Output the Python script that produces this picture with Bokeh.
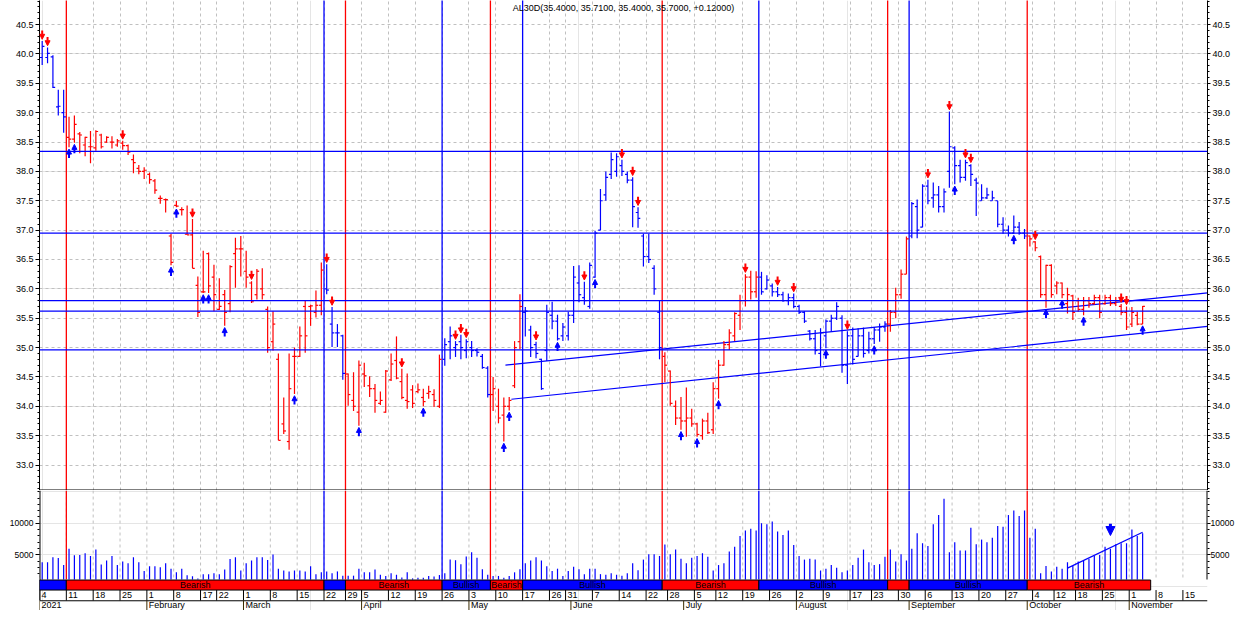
import pandas as pd
from bokeh.plotting import figure
from bokeh.layouts import column
from bokeh.models import (Range1d, LinearAxis, FixedTicker, NumeralTickFormatter, Grid, Span,
                          Label, ColumnDataSource, Arrow, NormalHead)
from bokeh.core.properties import value
from bokeh.embed import file_html
from bokeh.resources import INLINE

FONT = "Liberation Sans"
BLUE = "#0000FF"
RED = "#FF0000"
GRID = "#c0c0c0"

# ---------------- calendar ----------------
holidays = ["2021-02-15", "2021-02-16", "2021-03-24", "2021-04-01", "2021-04-02",
            "2021-05-24", "2021-05-25", "2021-06-21", "2021-07-09", "2021-08-16",
            "2021-10-08", "2021-10-11"]
days = [d for d in pd.bdate_range("2021-01-04", "2021-11-19")
        if d.strftime("%Y-%m-%d") not in holidays]

# ---------------- data ----------------
high = [40.22, 40.11, 39.98, 39.39, 39.39, 38.93, 38.95, 38.67, 38.59, 38.69,
        38.70, 38.64, 38.60, 38.60, 38.55, 38.52, 38.46, 38.29, 38.11, 38.07,
        37.98, 37.87, 37.59, 37.54, 36.94, 37.50, 37.39, 37.42, 37.19, 36.21,
        36.65, 36.62, 36.41, 36.18, 35.98, 36.40, 36.87, 36.90, 36.65, 36.13,
        36.34, 36.35, 35.70, 35.62, 34.90, 34.15, 34.90, 35.00, 35.36, 35.80,
        35.73, 35.97, 36.45, 36.42, 35.69, 35.40, 35.22, 34.56, 34.58, 34.78,
        34.74, 34.51, 34.38, 34.25, 34.62, 34.90, 35.19, 34.64, 34.56, 34.36,
        34.39, 34.30, 34.35, 34.29, 34.88, 35.16, 35.36, 35.11, 35.22, 35.14,
        35.11, 34.99, 34.89, 34.68, 34.50, 34.30, 34.15, 34.16, 35.11, 35.91,
        35.69, 35.37, 35.10, 34.81, 35.73, 35.78, 35.56, 35.42, 35.61, 36.39,
        36.40, 36.12, 36.45, 36.99, 37.70, 38.00, 38.32, 38.31, 38.20, 38.00,
        37.90, 37.39, 36.94, 36.94, 36.40, 35.80, 34.92, 34.61, 34.10, 34.16,
        34.32, 33.96, 33.72, 33.79, 33.89, 34.41, 34.79, 35.11, 35.31, 35.60,
        35.90, 36.25, 36.31, 36.30, 36.29, 36.23, 36.09, 36.03, 35.95, 35.92,
        35.92, 35.73, 35.62, 35.30, 35.30, 35.33, 35.48, 35.56, 35.77, 35.55,
        35.28, 35.34, 35.33, 35.34, 35.27, 35.35, 35.41, 35.45, 35.64, 36.02,
        36.33, 36.89, 37.48, 37.52, 37.78, 37.86, 37.81, 37.75, 37.71, 39.02,
        38.43, 38.20, 38.20, 38.12, 37.89, 37.78, 37.72, 37.67, 37.50, 37.22,
        37.08, 37.25, 37.14, 37.02, 36.91, 36.81, 36.57, 36.41, 36.42, 36.13,
        36.11, 36.02, 35.90, 35.85, 35.86, 35.86, 35.90, 35.90, 35.90, 35.90,
        35.86, 35.74, 35.70, 35.69, 35.61, 35.71]
low = [39.81, 39.84, 39.42, 38.95, 38.66, 38.41, 38.49, 38.31, 38.26, 38.14,
       38.35, 38.39, 38.49, 38.39, 38.42, 38.37, 38.28, 37.97, 37.95, 37.87,
       37.79, 37.62, 37.45, 37.30, 36.40, 37.39, 37.25, 36.92, 36.35, 35.52,
       35.93, 35.93, 35.62, 35.64, 35.37, 35.60, 36.02, 36.21, 36.02, 35.76,
       35.82, 35.82, 34.91, 34.95, 33.42, 33.53, 33.26, 34.21, 34.84, 34.91,
       35.37, 35.51, 35.55, 35.91, 35.01, 35.01, 34.45, 34.01, 33.92, 33.67,
       34.33, 34.16, 33.89, 34.02, 33.89, 34.43, 34.46, 34.12, 33.96, 33.97,
       34.22, 34.00, 34.13, 33.99, 33.97, 34.69, 34.80, 34.84, 34.80, 34.82,
       34.84, 34.85, 34.64, 34.15, 33.92, 33.71, 33.40, 33.93, 34.31, 34.97,
       35.19, 34.84, 34.82, 34.28, 34.77, 35.31, 35.12, 35.11, 35.12, 35.42,
       35.77, 35.73, 35.66, 36.19, 37.00, 37.50, 37.87, 37.91, 37.92, 37.80,
       37.05, 37.04, 36.38, 36.44, 35.90, 34.80, 34.41, 34.01, 33.68, 33.60,
       33.48, 33.65, 33.48, 33.43, 33.53, 33.53, 34.13, 34.69, 34.96, 35.11,
       35.30, 35.70, 35.82, 35.85, 35.90, 35.99, 35.87, 35.86, 35.78, 35.72,
       35.67, 35.57, 35.42, 35.12, 34.88, 34.68, 34.99, 35.27, 35.47, 34.57,
       34.38, 34.71, 34.85, 34.83, 34.90, 35.06, 35.10, 35.27, 35.27, 35.50,
       35.83, 36.25, 36.86, 36.86, 37.05, 37.44, 37.38, 37.30, 37.30, 37.72,
       37.78, 37.81, 37.84, 37.75, 37.24, 37.50, 37.53, 37.50, 37.05, 36.94,
       36.89, 36.94, 36.92, 36.85, 36.72, 36.64, 35.85, 35.68, 35.85, 35.91,
       35.84, 35.58, 35.47, 35.61, 35.55, 35.68, 35.73, 35.50, 35.73, 35.71,
       35.71, 35.55, 35.30, 35.35, 35.38, 35.40]
opn = [39.94, 39.94, 39.95, 39.10, 39.00, 38.58, 38.55, 38.64, 38.45, 38.42,
       38.40, 38.62, 38.50, 38.50, 38.45, 38.48, 38.44, 38.20, 38.05, 38.00,
       37.95, 37.84, 37.54, 37.52, 36.90, 37.42, 37.35, 36.93, 36.92, 36.06,
       35.95, 36.60, 36.20, 35.65, 35.90, 35.75, 36.60, 36.68, 36.30, 36.10,
       35.90, 36.00, 35.65, 35.10, 34.80, 33.70, 33.40, 34.85, 34.85, 35.70,
       35.70, 35.60, 35.72, 36.00, 35.40, 35.25, 35.20, 34.55, 34.10, 33.90,
       34.55, 34.35, 34.30, 34.05, 33.90, 34.45, 34.78, 34.42, 34.10, 34.28,
       34.25, 34.15, 34.22, 34.20, 34.00, 34.80, 35.10, 35.00, 35.10, 34.95,
       35.00, 34.95, 34.85, 34.65, 34.20, 34.00, 33.85, 34.00, 34.35, 35.10,
       35.60, 35.30, 35.05, 34.80, 34.95, 35.55, 35.45, 35.20, 35.20, 35.55,
       36.10, 35.85, 35.70, 36.20, 37.00, 37.60, 37.95, 38.00, 38.10, 37.95,
       37.85, 37.30, 36.90, 36.55, 36.35, 35.60, 34.85, 34.60, 34.00, 33.80,
       33.75, 33.80, 33.70, 33.50, 33.75, 33.60, 34.30, 34.70, 35.05, 35.20,
       35.55, 35.80, 36.20, 35.95, 36.20, 36.00, 36.05, 35.95, 35.90, 35.80,
       35.85, 35.70, 35.60, 35.28, 35.15, 34.90, 35.20, 35.45, 35.50, 35.50,
       34.70, 35.20, 34.85, 35.20, 34.95, 35.15, 35.30, 35.35, 35.40, 35.60,
       35.90, 36.25, 36.90, 37.40, 37.05, 37.75, 37.55, 37.60, 37.40, 38.00,
       38.40, 38.10, 37.90, 38.10, 37.85, 37.50, 37.55, 37.50, 37.50, 37.10,
       37.00, 36.95, 37.05, 36.95, 36.90, 36.80, 36.55, 35.90, 36.40, 36.05,
       36.10, 35.75, 35.88, 35.80, 35.65, 35.80, 35.75, 35.85, 35.75, 35.85,
       35.75, 35.70, 35.60, 35.40, 35.55, 35.40]
cls = [40.13, 40.01, 39.43, 39.11, 38.93, 38.55, 38.80, 38.62, 38.58, 38.42,
       38.68, 38.42, 38.58, 38.50, 38.52, 38.44, 38.33, 38.15, 38.00, 38.02,
       37.86, 37.68, 37.54, 37.52, 36.45, 37.41, 37.35, 36.92, 36.35, 35.60,
       35.95, 36.05, 35.90, 35.70, 35.60, 36.38, 36.68, 36.68, 36.20, 35.78,
       36.30, 35.90, 35.00, 35.40, 33.42, 33.58, 34.30, 34.85, 35.20, 35.20,
       35.71, 35.72, 36.32, 35.98, 35.25, 35.25, 34.56, 34.20, 34.00, 34.70,
       34.52, 34.30, 34.10, 34.10, 34.60, 34.72, 34.48, 34.15, 34.08, 34.05,
       34.28, 34.08, 34.25, 34.10, 34.80, 35.05, 35.20, 35.05, 35.00, 35.10,
       34.95, 34.92, 34.66, 34.20, 34.30, 33.80, 34.00, 34.10, 35.00, 35.70,
       35.62, 35.00, 34.90, 34.30, 35.60, 35.45, 35.15, 35.35, 35.55, 36.20,
       35.90, 35.80, 36.40, 36.95, 37.50, 37.90, 38.20, 38.25, 38.00, 37.85,
       37.40, 37.20, 36.55, 36.50, 36.00, 35.00, 34.70, 34.05, 33.80, 33.75,
       33.80, 33.70, 33.52, 33.75, 33.55, 34.30, 34.70, 35.05, 35.25, 35.58,
       35.80, 36.20, 35.95, 36.20, 35.95, 36.15, 35.95, 35.90, 35.80, 35.85,
       35.70, 35.60, 35.45, 35.15, 34.95, 35.25, 35.45, 35.50, 35.70, 34.70,
       35.20, 34.80, 35.20, 34.90, 35.15, 35.30, 35.35, 35.40, 35.60, 35.90,
       36.25, 36.85, 37.45, 37.00, 37.75, 37.50, 37.60, 37.40, 37.65, 38.42,
       38.10, 37.90, 38.15, 37.95, 37.80, 37.55, 37.60, 37.55, 37.10, 37.00,
       36.95, 37.05, 36.95, 36.90, 36.85, 36.70, 35.90, 36.40, 35.90, 36.10,
       35.90, 35.90, 35.60, 35.65, 35.80, 35.75, 35.85, 35.60, 35.85, 35.75,
       35.80, 35.60, 35.35, 35.60, 35.40, 35.70]
volume = [3798, 3798, 4615, 4471, 3365, 5961, 4904, 4952, 5240, 4808,
          5817, 3461, 4087, 4808, 3365, 3942, 3654, 4615, 3798, 2404,
          3173, 3173, 3028, 3654, 2788, 2211, 2788, 1730, 1586, 1250,
          1923, 1923, 2067, 1923, 2644, 4327, 4615, 2500, 3654, 4087,
          4615, 4615, 4183, 5048, 2788, 2500, 2355, 2500, 2500, 2355,
          3173, 1923, 2211, 2355, 2067, 2355, 1682, 1682, 1682, 2788,
          2211, 2211, 2644, 1826, 1634, 2067, 1826, 1400, 2211, 1250,
          1346, 1346, 1634, 1538, 1778, 2067, 4231, 4135, 3510, 4712,
          5384, 4519, 2692, 1826, 1634, 1634, 1346, 1634, 2211, 2692,
          3654, 4087, 4615, 4087, 3173, 2404, 2788, 1634, 2404, 3077,
          2692, 1923, 2788, 2788, 1923, 1826, 2067, 1826, 1682, 2067,
          3654, 2548, 4231, 5096, 5096, 4808, 6634, 5096, 5817, 4375,
          3654, 4519, 4808, 5240, 4663, 2500, 3365, 3654, 5529, 6250,
          7980, 8846, 9135, 8846, 10000, 9856, 10288, 8702, 8125, 8846,
          6538, 4808, 4231, 4375, 4231, 2500, 2788, 3365, 2932, 2211,
          2500, 3365, 4519, 5817, 3798, 3365, 3510, 4663, 5817, 3942,
          5096, 4087, 5961, 8413, 6827, 6394, 9856, 11298, 13894, 5384,
          6971, 5673, 5673, 9279, 6682, 7404, 6971, 7692, 9567, 9423,
          11298, 12019, 11154, 12019, 7692, 9135, 2067, 3221, 2355, 3077,
          2788, 3798, 3221, 3942, 4087, 4375, 4808, 4952, 6250, 5961,
          6682, 6827, 6827, 8990, 7980, 8413]

seg_start = [0, 5, 53, 57, 75, 84, 90, 116, 134, 158, 162, 184]
seg_end = [5, 53, 57, 75, 84, 90, 116, 134, 158, 162, 184, 207]
seg_trend = ["bull", "bear", "bull", "bear", "bull", "bear",
             "bull", "bear", "bull", "bear", "bull", "bear"]
seg_label = ["", "Bearish", "", "Bearish", "Bullish", "Bearish",
             "Bullish", "Bearish", "Bullish", "", "Bullish", "Bearish"]

down_idx = [0, 1, 15, 28, 39, 53, 54, 67, 77, 78, 79, 92, 101, 108, 110, 111,
            131, 137, 140, 150, 165, 169, 172, 173, 185, 201, 202]
up_idx = [5, 6, 24, 25, 30, 31, 34, 47, 59, 71, 86, 87, 96, 103, 119, 122, 126,
          146, 155, 170, 181, 187, 190, 194, 205]

levels = [38.34, 36.95, 35.80, 35.62, 34.96]
trend_x0 = [86.3, 87.4]
trend_y0 = [34.70, 34.12]
trend_x1 = [217.1, 217.1]
trend_y1 = [35.93, 35.36]
vol_trend_x = [191, 205]
vol_trend_y = [2884, 8558]
vol_arrow_x = [199]
vol_arrow_y0 = [9900]
vol_arrow_y1 = [8050]

title_text = "AL30D(35.4000, 35.7100, 35.4000, 35.7000, +0.12000)"
price_ticks = [33.0, 33.5, 34.0, 34.5, 35.0, 35.5, 36.0, 36.5, 37.0, 37.5,
               38.0, 38.5, 39.0, 39.5, 40.0, 40.5]
price_minor = [round(32.6 + 0.1 * k, 1) for k in range(84)]
vol_ticks = [5000, 10000]
vol_minor = list(range(2000, 16000, 1000))
VOL_FLOOR = 1060

# ---------------- derived ----------------
n = len(high)
xs = list(range(n))
bar_color = []
for i in xs:
    for s, e, t in zip(seg_start, seg_end, seg_trend):
        if s <= i < e:
            bar_color.append(BLUE if t == "bull" else RED)
            break

week_idx = [i for i in range(len(days))
            if i == 0 or days[i].isocalendar()[1] != days[i - 1].isocalendar()[1]]
month_idx = [i for i in range(len(days)) if i == 0 or days[i].month != days[i - 1].month]
week_lbl = [str(days[i].day) for i in week_idx]
month_lbl = ["2021" if i == 0 else days[i].strftime("%B") for i in month_idx]
week_b = [i - 0.5 for i in week_idx]
month_b = [i - 0.5 for i in month_idx]

sig_x = [s - 0.5 for s in seg_start[1:]]
sig_c = [BLUE if t == "bull" else RED for t in seg_trend[1:]]

X0 = -0.5
X1 = X0 + 1178 / 5.414
FW = 1168
BL, BR = 39, 27


def style_axis(ax, size, out, standoff):
    ax.axis_line_color = "black"
    ax.major_tick_line_color = "black"
    ax.minor_tick_line_color = "black"
    ax.major_tick_in = 0
    ax.major_tick_out = out
    ax.minor_tick_in = 0
    ax.minor_tick_out = 2
    ax.major_label_text_font = FONT
    ax.major_label_text_font_size = size
    ax.major_label_text_color = "black"
    ax.major_label_standoff = standoff


# ---------------- price panel ----------------
pa = figure(frame_width=FW, frame_height=490, x_range=Range1d(X0, X1),
            y_range=Range1d(32.566, 40.9105), x_axis_location=None, y_axis_location=None,
            output_backend="svg", toolbar_location=None,
            min_border_left=BL, min_border_right=BR, min_border_top=0, min_border_bottom=0)
pa.outline_line_color = None
for side, out, so in (("left", 4, 2), ("right", 3, 2)):
    ax = LinearAxis(ticker=FixedTicker(ticks=price_ticks, minor_ticks=price_minor),
                    formatter=NumeralTickFormatter(format="0.0"))
    style_axis(ax, "9px", out, so)
    pa.add_layout(ax, side)
pa.add_layout(Grid(dimension=1, ticker=FixedTicker(ticks=price_ticks),
                   grid_line_color=GRID, grid_line_dash="3 3"))
pa.add_layout(Grid(dimension=0, ticker=FixedTicker(ticks=week_b),
                   grid_line_color=GRID, grid_line_dash="3 3"))

for lv in levels:
    pa.add_layout(Span(location=lv, dimension="width", line_color=BLUE, line_width=1.3))
pa.segment(x0=sig_x, y0=[32.566] * len(sig_x), x1=sig_x, y1=[40.92] * len(sig_x),
           line_color=sig_c, line_width=1.3)
pa.segment(x0=trend_x0, y0=trend_y0, x1=trend_x1, y1=trend_y1, line_color=BLUE, line_width=1.2)

src = ColumnDataSource(dict(x=xs, h=high, l=low, o=opn, c=cls, col=bar_color,
                            xl=[x - 0.42 for x in xs], xr=[x + 0.42 for x in xs]))
pa.segment(x0="x", y0="l", x1="x", y1="h", line_color="col", line_width=1.2, source=src)
pa.segment(x0="xl", y0="o", x1="x", y1="o", line_color="col", line_width=1.2, source=src)
pa.segment(x0="x", y0="c", x1="xr", y1="c", line_color="col", line_width=1.2, source=src)

GAP, LEN = 0.03, 0.15
dsrc = ColumnDataSource(dict(x=down_idx, y0=[high[i] + GAP + LEN for i in down_idx],
                             y1=[high[i] + GAP for i in down_idx]))
pa.add_layout(Arrow(end=NormalHead(size=5, fill_color=RED, line_color=RED, line_width=1),
                    x_start="x", y_start="y0", x_end="x", y_end="y1", source=dsrc,
                    line_color=RED, line_width=2))
usrc = ColumnDataSource(dict(x=up_idx, y0=[low[i] - GAP - LEN for i in up_idx],
                             y1=[low[i] - GAP for i in up_idx]))
pa.add_layout(Arrow(end=NormalHead(size=5, fill_color=BLUE, line_color=BLUE, line_width=1),
                    x_start="x", y_start="y0", x_end="x", y_end="y1", source=usrc,
                    line_color=BLUE, line_width=2))
pa.add_layout(Span(location=32.574, dimension="width", line_color="black", line_width=1.2))
pa.add_layout(Label(x=(X0 + X1) / 2, y=40.79, text=title_text, text_align="center",
                    text_baseline="middle", text_font=FONT, text_font_size="9px",
                    text_color="black"))

# ---------------- volume / band / dates panel ----------------
pb = figure(frame_width=FW, frame_height=120, x_range=pa.x_range,
            y_range=Range1d(-3845, 15192), x_axis_location=None, y_axis_location=None,
            output_backend="svg", toolbar_location=None,
            min_border_left=BL, min_border_right=BR, min_border_top=0, min_border_bottom=0)
pb.outline_line_color = None
pb.extra_y_ranges = {"px": Range1d(626, 494)}
for side, out, so in (("left", 4, 2), ("right", 3, 0)):
    ax = LinearAxis(ticker=FixedTicker(ticks=vol_ticks, minor_ticks=vol_minor))
    style_axis(ax, "8.5px", out, so)
    ax.axis_line_color = None
    pb.add_layout(ax, side)

nw = len(week_b)
pb.segment(x0=week_b, y0=[494] * nw, x1=week_b, y1=[592] * nw, y_range_name="px",
           line_color=GRID, line_dash="3 3", line_width=1)
pb.segment(x0=sig_x, y0=[494] * len(sig_x), x1=sig_x, y1=[592] * len(sig_x),
           y_range_name="px", line_color=sig_c, line_width=1.3)
pb.segment(x0=xs, y0=[VOL_FLOOR] * n, x1=xs, y1=volume, line_color=BLUE, line_width=1.2)
pb.segment(x0=[vol_trend_x[0]], y0=[vol_trend_y[0]], x1=[vol_trend_x[1]], y1=[vol_trend_y[1]],
           line_color=BLUE, line_width=1.2)
vsrc = ColumnDataSource(dict(x=vol_arrow_x, y0=vol_arrow_y0, y1=vol_arrow_y1))
pb.add_layout(Arrow(end=NormalHead(size=9, fill_color=BLUE, line_color=BLUE, line_width=1),
                    x_start="x", y_start="y0", x_end="x", y_end="y1", source=vsrc,
                    line_color=BLUE, line_width=3))

# axis lines
pb.segment(x0=[X0, X1], y0=[494, 494], x1=[X0, X1], y1=[615, 592], y_range_name="px",
           line_color="black", line_width=2)

# band
bcol = [BLUE if t == "bull" else RED for t in seg_trend]
pb.quad(left=[s - 0.5 for s in seg_start], right=[e - 0.5 for e in seg_end],
        bottom=[603.5] * len(seg_start), top=[592.5] * len(seg_start), y_range_name="px",
        fill_color=bcol, line_color="black", line_width=1)
pb.text(x=[(s + e) / 2 - 0.5 for s, e in zip(seg_start, seg_end)], y=[598] * len(seg_start),
        text=seg_label, y_range_name="px", text_align="center", text_baseline="middle",
        text_font=value(FONT), text_font_size="9px", text_color="black")

# day row
pb.segment(x0=week_b, y0=[603.5] * nw, x1=week_b, y1=[615] * nw, y_range_name="px",
           line_color="black", line_width=1)
pb.text(x=week_b, y=[609.3] * nw, text=week_lbl, y_range_name="px", x_offset=2,
        text_align="left", text_baseline="middle", text_font=value(FONT),
        text_font_size="9px", text_color="black")
pb.segment(x0=[X0], y0=[615.3], x1=[X1], y1=[615.3], y_range_name="px",
           line_color="black", line_width=1)
# month row
nm = len(month_b)
pb.segment(x0=month_b, y0=[615.3] * nm, x1=month_b, y1=[626] * nm, y_range_name="px",
           line_color="#3a2a00", line_width=1)
pb.text(x=month_b, y=[620.3] * nm, text=month_lbl, y_range_name="px", x_offset=2,
        text_align="left", text_baseline="middle", text_font=value(FONT),
        text_font_size="9px", text_color="black")

layout = column(pa, pb)
open("out.html", "w").write(file_html(layout, INLINE))
